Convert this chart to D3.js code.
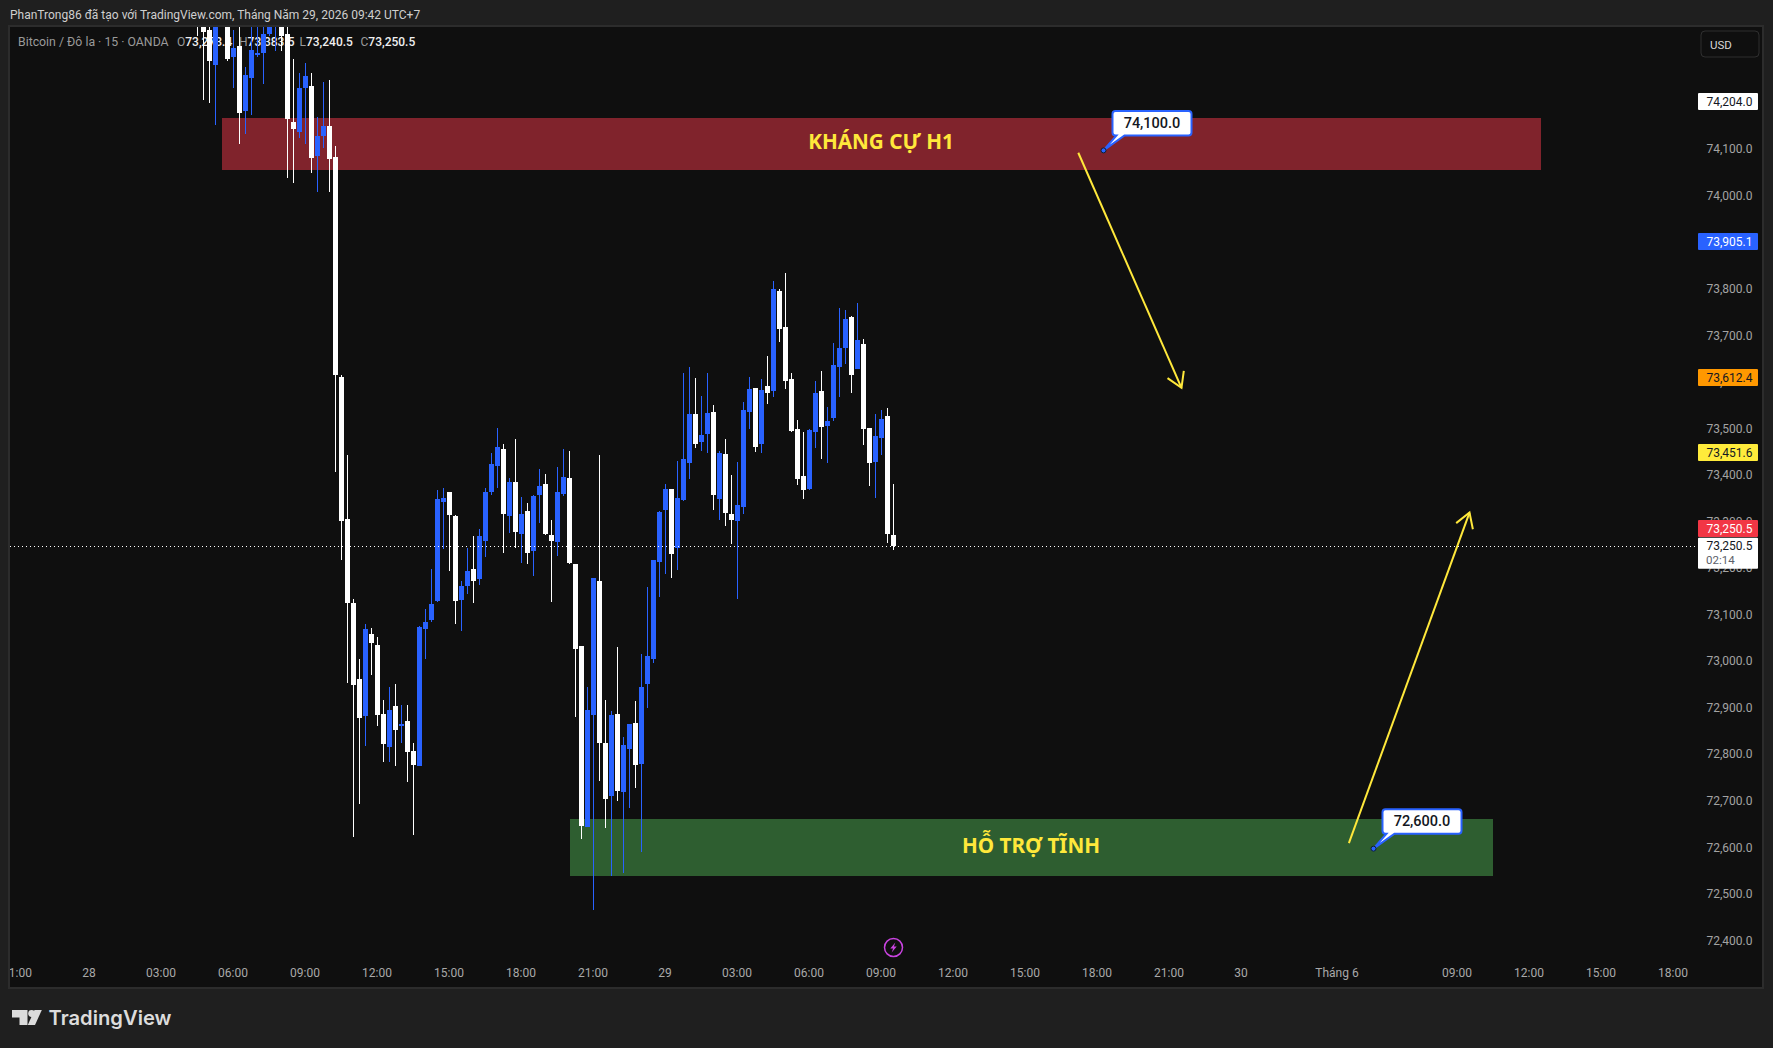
<!DOCTYPE html>
<html lang="vi">
<head>
<meta charset="utf-8">
<title>Bitcoin / Đô la · 15 · OANDA</title>
<script src="https://cdn.jsdelivr.net/npm/d3@7/dist/d3.min.js"></script>
<style>
  html, body { margin: 0; padding: 0; background: #1f1f1f; overflow: hidden; }
  svg { display: block; }
  text { font-family: Roboto, "Noto Sans", sans-serif; }
</style>
</head>
<body>
<svg id="chart" width="1773" height="1048"></svg>
<script>
// 15-minute bars, counted from 00:00 on the 28th.
const firstBar = 18;
const opens = [74400,74390,74359.7,74284.5,74411,74390,74299.6,74325.3,74183.6,74254.5,74306,74308.2,74349,74370.4,74390,74351.1,74162,74140.6,74235.1,74237.3,74086.9,74132,74151.4,74084.8,73612.2,73307.2,73126.8,72963.5,72884,73060.2,73036.5,72888.3,72817.4,72905.5,72862.6,72873.3,72808.9,72776.6,73070.9,73090.2,73131,73343.7,73365.2,73313.6,73133.2,73163.3,73199.8,73178.3,73260,73365.2,73421,73457.5,73313.6,73386.7,73275,73324.4,73238.5,73358.7,73382.4,73272.8,73257.8,73360.9,73395.3,73210.5,73034.4,72645.6,72886.2,73174,72826,72712.2,72888.3,72720.8,72813.1,72869,72780.9,72952.8,73006.5,73214.8,73326.5,73371.6,73244.9,73348,73427.5,73532.7,73472.6,73489.8,73537,73350.1,73446.8,73317.9,73302.9,73333,73537,73588.6,73468.3,73592.9,73582.1,73796.9,73719.6,73607.9,73500.5,73399.6,73371.6,73494.1,73582.1,73507,73524.1,73633.7,73674.5,73741.1,73629.4,73683.1,73502.7,73429.6,73481.2,73528.4,73273.4];
const highs = [74411,74400.5,74379,74400.5,74422,74400.5,74359.7,74379,74280.2,74379,74374.7,74379,74400.5,74411,74405,74379,74295.3,74265.2,74286.7,74267.3,74172.8,74245.9,74252.3,74108.4,73616.5,73444.7,73135.3,73006.5,73081.6,73073,73053.7,72918.4,72946.3,72952.8,72907.7,72907.7,72826,73077.3,73113.9,73199.8,73369.5,73373.8,73365.2,73315.8,73174,73244.9,73270.7,73285.7,73373.8,73449,73502.7,73468.3,73395.3,73479,73354.4,73341.6,73358.7,73414.6,73403.8,73305,73418.9,73457.5,73453.3,73210.5,73034.4,72946.3,73180.4,73444.7,72918.4,72894.8,73032.2,72839,72866.9,72916.3,73017.2,73161.1,73219.1,73324.4,73382.4,73371.6,73431.8,73620.8,73633.7,73610,73571.4,73620.8,73552,73453.3,73479,73401.7,73429.6,73558.5,73612.2,73588.6,73607.9,73657.3,73818.4,73801.2,73837.7,73620.8,73519.8,73494.1,73500.5,73603.6,73625.1,73547.8,73685.2,73760.4,73756.1,73743.2,73771.2,73693.8,73502.7,73532.7,73541.3,73545.6,73383.5];
const lows = [74345,74209.3,74200.8,74153.5,74370,74293,74233,74114.8,74136.3,74177.1,74299.6,74241.6,74346.8,74312.5,74314.6,74039.7,74029,74125.6,74112.7,74052.5,74011.7,74104.1,74009.6,73408.1,73219.1,72954.9,72624.1,72695,72819.6,72972.1,72862.6,72785.2,72785.2,72776.6,72826,72742.3,72628.4,72776.6,73006.5,73085.9,73128.9,73242.7,73195.5,73081.6,73066.6,73146.1,73126.8,73165.4,73225.6,73358.7,73373.8,73234.2,73277.1,73244.9,73212.7,73210.5,73184.8,73298.6,73272.8,73128.9,73227.7,73356.6,73210.5,72881.9,72619.8,72645.6,72467.3,72744.4,72643.5,72540.4,72701.4,72546.8,72686.4,72729.4,72591.9,72901.2,72997.9,73139.6,73189,73180.4,73197.6,73345.9,73393.1,73459.7,73453.3,73449,73326.5,73305,73292.1,73253.5,73135.3,73317.9,73500.5,73451.1,73449,73554.2,73569.2,73687.4,73586.4,73494.1,73380.2,73350.1,73369.5,73459.7,73436.1,73427.5,73517.7,73569.2,73640.1,73577.8,73629.4,73466.1,73378,73352.3,73444.7,73255.6,73240.5];
const closes = [74375,74355.4,74291,74390,74390,74295.3,74321,74179.3,74261,74316.7,74308.2,74351.1,74390,74396.2,74344.7,74168.5,74144.9,74233,74258.8,74082.6,74129.9,74151.4,74080.5,73616.5,73302.9,73126.8,72950.6,72879.7,73070.9,73040.8,72886.2,72823.9,72896.9,72854,72866.9,72806.7,72778.8,73075.2,73085.9,73124.6,73350.1,73352.3,73315.8,73131,73163.3,73195.5,73174,73270.7,73365.2,73425.3,73461.8,73317.9,73386.7,73279.3,73317.9,73234.2,73356.6,73378,73275,73260,73365.2,73397.4,73212.7,73027.9,72647.8,72896.9,73180.4,72826,72705.7,72886.2,72722.9,72821.7,72866.9,72778.8,72946.3,73012.9,73219.1,73322.2,73371.6,73232,73352.3,73436.1,73532.7,73468.3,73487.6,73534.9,73358.7,73449,73320,73305,73337.3,73541.3,73586.4,73461.8,73584.3,73577.8,73801.2,73715.3,73603.6,73496.2,73393.1,73369.5,73498.4,73577.8,73504.8,73517.7,73638,73674.5,73736.8,73616.5,73691.7,73500.5,73427.5,73485.5,73522,73275,73250.5];

const priceTicks = [74100,74000,73800,73700,73600,73500,73400,73300,73200,73100,73000,72900,72800,72700,72600,72500,72400];
const timeTickBars = [-12,0,12,24,36,48,60,72,84,96,108,120,132,144,156,168,180,192,208,228,240,252,264];
const timeTickLabels = ["21:00","28","03:00","06:00","09:00","12:00","15:00","18:00","21:00","29","03:00","06:00","09:00","12:00","15:00","18:00","21:00","30","Tháng 6","09:00","12:00","15:00","18:00"];

const lastPrice = 73250.5;
const countdown = "02:14";
const resistanceZone = { label: "KHÁNG CỰ H1", top: 74168.7, bottom: 74057, startBar: 22, endBar: 241.9 };
const supportZone = { label: "HỖ TRỢ TĨNH", top: 72662.8, bottom: 72540.4, startBar: 80, endBar: 233.9 };
const priceNotes = [
  { price: 74100, bar: 169 },
  { price: 72600, bar: 214 }
];
const sideTags = [
  { price: 74204.0, fill: "#ffffff", ink: "#131722" },
  { price: 73905.1, fill: "#2962ff", ink: "#ffffff" },
  { price: 73612.4, fill: "#ff9800", ink: "#131722" },
  { price: 73451.6, fill: "#ffeb3b", ink: "#131722" }
];
const trendArrows = [
  { from: [164.8, 74095], to: [182, 73590] },
  { from: [209.9, 72612], to: [230, 73322] }
];
const titleText = "PhanTrong86 đã tạo với TradingView.com, Tháng Năm 29, 2026 09:42 UTC+7";
const legendName = "Bitcoin / Đô la · 15 · OANDA";
const legendValues = [["O","73,273.4"],["H","73,383.5"],["L","73,240.5"],["C","73,250.5"]];

const BLUE = "#2962ff", WHITE = "#ffffff", YELLOW = "#ffe83b";
const pane = { left: 10, right: 1762, top: 27, bottom: 987, axisTop: 955, tagLeft: 1698, tagRight: 1758 };

const svg = d3.select("#chart");
const x = d3.scaleLinear().domain([0, 1]).range([89.5, 95.5]);
const y = d3.scaleLinear().domain([74100, 73100]).range([150.4, 615.9]);
const money = d3.format(",.1f");
const snap = v => Math.round(v);

const defs = svg.append("defs");
defs.append("clipPath").attr("id", "paneClip").append("rect")
  .attr("x", pane.left).attr("y", pane.top)
  .attr("width", pane.right - pane.left).attr("height", pane.bottom - pane.top);
defs.append("clipPath").attr("id", "plotClip").append("rect")
  .attr("x", pane.left).attr("y", pane.top)
  .attr("width", pane.tagLeft - pane.left).attr("height", pane.bottom - pane.top);

// Frame and pane background
svg.append("rect").attr("width", 1773).attr("height", 1048).attr("fill", "#1f1f1f");
svg.append("rect")
  .attr("x", pane.left - 1).attr("y", pane.top - 1)
  .attr("width", pane.right - pane.left + 2).attr("height", pane.bottom - pane.top + 2)
  .attr("fill", "#0f0f0f").attr("stroke", "#2c2c2c").attr("stroke-width", 2);

// Snapshot title
svg.append("text").attr("x", 10).attr("y", 19)
  .attr("font-size", 12).attr("fill", "#cfcfcf").text(titleText);

// Symbol legend sits under the candles
const legend = svg.append("g");
legend.append("text").attr("x", 18).attr("y", 46)
  .attr("font-size", 12.3).attr("fill", "#9a9a9a").text(legendName);
const legendX = [177, 239, 299.5, 360.5];
legendValues.forEach(([key, val], i) => {
  const t = legend.append("text").attr("x", legendX[i]).attr("y", 46).attr("font-size", 12);
  t.append("tspan").attr("fill", "#9a9a9a").text(key);
  t.append("tspan").attr("fill", "#f0f0f0").attr("font-weight", 500).text(val);
});

// Zones
const zones = svg.append("g").attr("clip-path", "url(#plotClip)");
[[resistanceZone, "#80232c"], [supportZone, "#2e5e30"]].forEach(([z, fill]) => {
  zones.append("rect")
    .attr("x", snap(x(z.startBar))).attr("width", snap(x(z.endBar)) - snap(x(z.startBar)))
    .attr("y", snap(y(z.top))).attr("height", snap(y(z.bottom)) - snap(y(z.top)))
    .attr("fill", fill);
});

// Candles
const bars = opens.map((o, i) => ({ bar: firstBar + i, o, h: highs[i], l: lows[i], c: closes[i] }));
const candles = svg.append("g").attr("clip-path", "url(#paneClip)").attr("shape-rendering", "crispEdges")
  .selectAll("g").data(bars).join("g")
  .attr("fill", d => d.c >= d.o ? BLUE : WHITE);
candles.append("rect")
  .attr("x", d => x(d.bar) - 0.5).attr("width", 1)
  .attr("y", d => snap(y(d.h))).attr("height", d => Math.max(1, snap(y(d.l)) - snap(y(d.h))));
candles.append("rect")
  .attr("x", d => x(d.bar) - 2.5).attr("width", 5)
  .attr("y", d => snap(y(Math.max(d.o, d.c))))
  .attr("height", d => Math.max(2, snap(y(Math.min(d.o, d.c))) - snap(y(Math.max(d.o, d.c)))));

// Zone captions
[[resistanceZone, 881, 149], [supportZone, 1031, 853]].forEach(([z, cx, by]) => {
  svg.append("text").attr("x", cx).attr("y", by).attr("text-anchor", "middle")
    .attr("font-size", 20.7).attr("font-weight", 700)
    .attr("fill", YELLOW).style("font-family", "'Noto Sans', sans-serif").text(z.label);
});

// Hand-drawn arrows
const arrows = svg.append("g").attr("fill", "none").attr("stroke", YELLOW).attr("stroke-width", 2);
trendArrows.forEach(a => {
  const p0 = [x(a.from[0]), y(a.from[1])], p1 = [x(a.to[0]), y(a.to[1])];
  const ang = Math.atan2(p1[1] - p0[1], p1[0] - p0[0]);
  const arm = s => [p1[0] - 17 * Math.cos(ang + s * 0.55), p1[1] - 17 * Math.sin(ang + s * 0.55)];
  arrows.append("path").attr("d", d3.line()([p0, p1]));
  arrows.append("path").attr("d", d3.line()([arm(1), p1, arm(-1)]));
});

// Price notes: a white box with a tail that points at the level
priceNotes.forEach(n => {
  const px = x(n.bar), py = y(n.price);
  const l = px + 9, r = px + 88, t = py - 39.5, b = py - 15, rad = 3;
  const outline = `M${l + rad},${t}H${r - rad}Q${r},${t} ${r},${t + rad}V${b - rad}Q${r},${b} ${r - rad},${b}` +
    `H${l + 12}L${px},${py}L${l + 4},${b}H${l + rad}Q${l},${b} ${l},${b - rad}V${t + rad}Q${l},${t} ${l + rad},${t}Z`;
  svg.append("path").attr("d", outline).attr("fill", "#ffffff").attr("stroke", BLUE).attr("stroke-width", 2);
  svg.append("circle").attr("cx", px).attr("cy", py).attr("r", 2.5)
    .attr("fill", BLUE).attr("stroke", "#10202f").attr("stroke-width", 1);
  svg.append("text").attr("x", (l + r) / 2).attr("y", py - 22.5).attr("text-anchor", "middle")
    .attr("font-size", 14.5).attr("font-weight", 500).attr("fill", "#131722").text(money(n.price));
});

// Last-price line
svg.append("line")
  .attr("x1", pane.left).attr("x2", pane.tagLeft)
  .attr("y1", snap(y(lastPrice)) + 0.5).attr("y2", snap(y(lastPrice)) + 0.5)
  .attr("stroke", "#ffffff").attr("stroke-dasharray", "1 3").attr("shape-rendering", "crispEdges");

// Price axis
const yAxis = svg.append("g").attr("transform", `translate(${pane.tagRight - 5.5},-1.4)`)
  .call(d3.axisLeft(y).tickValues(priceTicks).tickFormat(money).tickSize(0).tickPadding(0));
yAxis.select(".domain").remove();
yAxis.selectAll("text").attr("font-size", 12).attr("fill", "#a3a3a3")
  .style("font-family", "Roboto, sans-serif");

// Time axis
const timeLabel = d3.scaleOrdinal(timeTickBars, timeTickLabels);
const xAxis = svg.append("g").attr("clip-path", "url(#paneClip)").append("g")
  .attr("transform", `translate(-1,${pane.axisTop + 13.5})`)
  .call(d3.axisBottom(x).tickValues(timeTickBars).tickFormat(d => timeLabel(d)).tickSize(0).tickPadding(0));
xAxis.select(".domain").remove();
xAxis.selectAll("text").attr("font-size", 12).attr("fill", "#a9a9a9")
  .style("font-family", "Roboto, sans-serif");

// Side tags
const tagHeight = 17;
function tag(cy, fill, ink, label) {
  svg.append("rect").attr("x", pane.tagLeft).attr("width", pane.tagRight - pane.tagLeft)
    .attr("y", snap(cy - tagHeight / 2)).attr("height", tagHeight).attr("rx", 1).attr("fill", fill);
  svg.append("text").attr("x", pane.tagRight - 5.5).attr("y", snap(cy - tagHeight / 2) + 12.7)
    .attr("text-anchor", "end").attr("font-size", 12).attr("fill", ink).text(label);
}
sideTags.forEach(t => tag(y(t.price), t.fill, t.ink, money(t.price)));

// Last-price tag with the bar countdown underneath
const lastY = y(lastPrice);
svg.append("rect").attr("x", pane.tagLeft).attr("width", pane.tagRight - pane.tagLeft)
  .attr("y", lastY - 8).attr("height", 31).attr("rx", 1).attr("fill", "#ffffff");
svg.append("text").attr("x", pane.tagRight - 5.5).attr("y", lastY + 4)
  .attr("text-anchor", "end").attr("font-size", 12).attr("fill", "#131722").text(money(lastPrice));
svg.append("text").attr("x", pane.tagLeft + 8).attr("y", lastY + 18)
  .attr("font-size", 11.5).attr("fill", "#5c5f6a").text(countdown);
tag(lastY - 17, "#f23645", "#ffffff", money(lastPrice));

// Currency button
svg.append("rect").attr("x", 1701).attr("y", 31).attr("width", 58).attr("height", 26).attr("rx", 4)
  .attr("fill", "#0f0f0f").attr("stroke", "#2f2f2f");
svg.append("text").attr("x", 1710).attr("y", 48.5).attr("font-size", 11.5).attr("fill", "#d6d6d6").text("USD");

// Lightning badge on the time axis
const badge = svg.append("g").attr("transform", "translate(893.5,947.5)");
badge.append("circle").attr("r", 9).attr("fill", "none").attr("stroke", "#c943e0").attr("stroke-width", 1.5);
badge.append("path").attr("d", "M1.8,-5 L-3.2,1 L-0.4,1 L-1.8,5 L3.2,-1 L0.4,-1 Z").attr("fill", "#c943e0");

// Wordmark
const mark = svg.append("g").attr("fill", "#dcdcdc");
mark.append("path").attr("d", "M12,1010H27.5V1025H19.5V1017.5H12Z");
mark.append("circle").attr("cx", 31.6).attr("cy", 1013.5).attr("r", 3.4);
mark.append("path").attr("d", "M34.5,1010H41.8L35,1025H27.8Z");
svg.append("text").attr("x", 48.5).attr("y", 1025).attr("font-size", 20.2).attr("font-weight", 600)
  .attr("fill", "#dcdcdc").style("font-family", "Inter, Roboto, sans-serif").text("TradingView");
</script>
</body>
</html>
